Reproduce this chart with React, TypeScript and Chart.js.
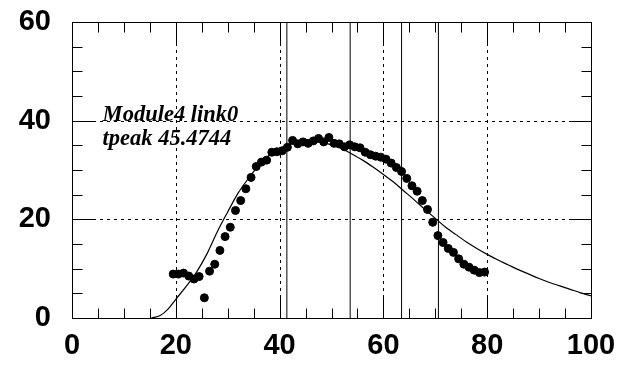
import React, { useEffect, useRef } from "react";
import { Chart, registerables } from "chart.js";

Chart.register(...registerables);

// Histogram bin centres and contents
const binCenters: number[] = [
  19.5, 20.5, 21.5, 22.5, 23.5, 24.5, 25.5, 26.5, 27.5, 28.5,
  29.5, 30.5, 31.5, 32.5, 33.5, 34.5, 35.5, 36.5, 37.5, 38.5,
  39.5, 40.5, 41.5, 42.5, 43.5, 44.5, 45.5, 46.5, 47.5, 48.5,
  49.5, 50.5, 51.5, 52.5, 53.5, 54.5, 55.5, 56.5, 57.5, 58.5,
  59.5, 60.5, 61.5, 62.5, 63.5, 64.5, 65.5, 66.5, 67.5, 68.5,
  69.5, 70.5, 71.5, 72.5, 73.5, 74.5, 75.5, 76.5, 77.5, 78.5,
  79.5,
];
const binValues: number[] = [
  8.9, 8.9, 9.1, 8.5, 7.9, 8.4, 4.1, 9.5, 10.9, 13.7,
  16.5, 18.4, 21.8, 23.8, 26.2, 28.5, 30.7, 31.6, 32.0, 33.6,
  33.7, 33.9, 34.6, 36.0, 35.3, 35.7, 35.4, 35.9, 36.4, 35.7,
  36.6, 35.4, 35.3, 34.7, 35.1, 34.7, 34.5, 33.6, 33.1, 32.8,
  32.6, 32.2, 31.4, 30.5, 29.7, 28.3, 26.8, 25.7, 23.8, 22.0,
  19.4, 16.7, 15.3, 14.1, 13.3, 12.0, 10.9, 10.3, 9.7, 9.2,
  9.3,
];

// Fit curve
const fitX: number[] = [
  15.3, 17, 18.5, 20, 22, 24, 26, 28, 30, 32, 34, 36, 38, 40, 42, 44, 46,
  48, 50, 52, 54, 56, 58, 60, 62, 64, 66, 68, 70, 72, 74, 76, 78, 80, 82,
  84, 86, 88, 90, 92, 94, 96, 98, 100,
];
const fitY: number[] = [
  0, 0.5, 1.8, 3.8, 6.4, 9.3, 13.0, 17.5, 21.5, 25.3, 28.3, 31.0, 33.0,
  34.3, 35.2, 35.7, 35.8, 35.6, 35.1, 34.3, 33.2, 32.0, 30.6, 29.1, 27.5,
  25.7, 23.9, 22.0, 20.2, 18.4, 16.9, 15.4, 14.1, 12.9, 11.8, 10.8, 9.8,
  8.9, 8.0, 7.2, 6.5, 5.8, 5.1, 4.5,
];

// Vertical marker lines
const markerX: number[] = [41.4, 53.6, 63.5, 70.6];

// Axis ranges and ticks
const xRange: number[] = [0, 100];
const yRange: number[] = [0, 60];
const majorStep = 20;
const minorStep = 5;
const gridX: number[] = [20, 40, 60, 80];
const gridY: number[] = [20, 40];

// Annotation
const annotationLines: string[] = ["Module4 link0", "tpeak 45.4744"];
const annotationAnchor = { x: 5.9, y: 40.0 };

const framePlugin = {
  id: "rootFrame",
  beforeDatasetsDraw(chart: any) {
    const { ctx, chartArea } = chart;
    const xs = chart.scales.x;
    const ys = chart.scales.y;
    ctx.save();
    ctx.strokeStyle = "#000";
    ctx.lineWidth = 1;
    ctx.setLineDash([3, 4]);
    for (const v of gridX) {
      const px = Math.round(xs.getPixelForValue(v)) + 0.5;
      ctx.beginPath();
      ctx.moveTo(px, chartArea.top);
      ctx.lineTo(px, chartArea.bottom);
      ctx.stroke();
    }
    for (const v of gridY) {
      const py = Math.round(ys.getPixelForValue(v)) + 0.5;
      ctx.beginPath();
      ctx.moveTo(chartArea.left, py);
      ctx.lineTo(chartArea.right, py);
      ctx.stroke();
    }
    ctx.restore();
  },
  afterDatasetsDraw(chart: any) {
    const { ctx, chartArea } = chart;
    const xs = chart.scales.x;
    const ys = chart.scales.y;
    ctx.save();
    ctx.strokeStyle = "#000";
    ctx.lineWidth = 1;
    ctx.setLineDash([]);
    const l = Math.round(chartArea.left) + 0.5;
    const r = Math.round(chartArea.right) + 0.5;
    const t = Math.round(chartArea.top) + 0.5;
    const b = Math.round(chartArea.bottom) + 0.5;
    ctx.strokeRect(l, t, r - l, b - t);
    ctx.beginPath();
    for (let v = xRange[0]; v <= xRange[1]; v += minorStep) {
      const len = v % majorStep === 0 ? 21 : 10;
      const px = Math.round(xs.getPixelForValue(v)) + 0.5;
      ctx.moveTo(px, b);
      ctx.lineTo(px, b - len);
      ctx.moveTo(px, t);
      ctx.lineTo(px, t + len);
    }
    for (let v = yRange[0]; v <= yRange[1]; v += minorStep) {
      const len = v % majorStep === 0 ? 21 : 10;
      const py = Math.round(ys.getPixelForValue(v)) + 0.5;
      ctx.moveTo(l, py);
      ctx.lineTo(l + len, py);
      ctx.moveTo(r, py);
      ctx.lineTo(r - len, py);
    }
    ctx.stroke();

    ctx.fillStyle = "#000";
    ctx.font = "italic bold 22.5px 'Liberation Serif', 'DejaVu Serif', serif";
    ctx.textAlign = "left";
    ctx.textBaseline = "alphabetic";
    const ax = xs.getPixelForValue(annotationAnchor.x);
    const ay = ys.getPixelForValue(annotationAnchor.y);
    annotationLines.forEach((s, i) => ctx.fillText(s, ax, ay + i * 24));
    ctx.restore();
  },
};

export default function App() {
  const ref = useRef<HTMLCanvasElement | null>(null);
  useEffect(() => {
    document.body.style.margin = "0";
    if (!ref.current) return;
    const markerSets = markerX.map((mx) => ({
      type: "line" as const,
      data: [
        { x: mx, y: yRange[0] },
        { x: mx, y: yRange[1] },
      ],
      borderColor: "#000",
      borderWidth: 1,
      pointRadius: 0,
      fill: false,
    }));
    const chart = new Chart(ref.current, {
      type: "scatter",
      data: {
        datasets: [
          ...markerSets,
          {
            type: "line" as const,
            data: fitX.map((x, i) => ({ x, y: fitY[i] })),
            borderColor: "#000",
            borderWidth: 1.2,
            pointRadius: 0,
            tension: 0.4,
            cubicInterpolationMode: "monotone",
            fill: false,
          } as any,
          {
            type: "scatter" as const,
            data: binCenters.map((x, i) => ({ x, y: binValues[i] })),
            backgroundColor: "#000",
            borderColor: "#000",
            pointRadius: 4,
            pointHoverRadius: 4,
          },
        ],
      },
      options: {
        animation: false,
        responsive: false,
        events: [],
        layout: { padding: { left: 0, right: 29, top: 22, bottom: 0 } },
        plugins: {
          legend: { display: false },
          tooltip: { enabled: false },
          title: { display: false },
        },
        scales: {
          x: {
            type: "linear",
            min: xRange[0],
            max: xRange[1],
            grid: { display: false, drawTicks: false, tickLength: 0 },
            border: { display: false },
            ticks: {
              stepSize: majorStep,
              color: "#000",
              padding: 11,
              maxRotation: 0,
              font: { family: "'Liberation Sans', Arial, sans-serif", size: 29, weight: "bold" },
            },
            afterFit: (s: any) => {
              s.height = 48;
              s.paddingLeft = 0;
              s.paddingRight = 0;
            },
          },
          y: {
            type: "linear",
            min: yRange[0],
            max: yRange[1],
            grid: { display: false, drawTicks: false, tickLength: 0 },
            border: { display: false },
            ticks: {
              stepSize: majorStep,
              color: "#000",
              padding: 21,
              font: { family: "'Liberation Sans', Arial, sans-serif", size: 29, weight: "bold" },
            },
            afterFit: (s: any) => {
              s.width = 72;
              s.paddingTop = 0;
              s.paddingBottom = 0;
            },
          },
        },
      },
      plugins: [framePlugin],
    });
    return () => chart.destroy();
  }, []);
  return (
    <div style={{ position: "absolute", left: 0, top: 0, width: 620, height: 366, background: "#fff" }}>
      <canvas ref={ref} width={620} height={366} />
    </div>
  );
}
